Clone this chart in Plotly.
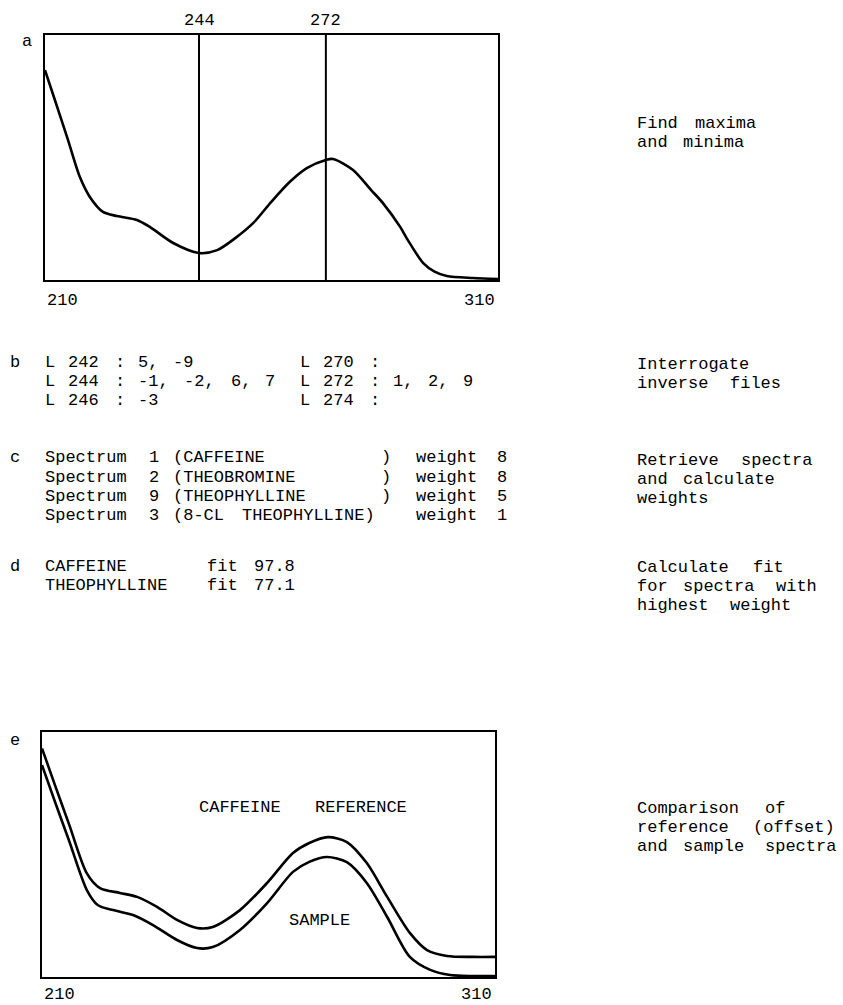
import plotly.graph_objects as go

# ---------------- data ----------------
# panel a: unknown spectrum
wl_a = [210, 212, 215, 217.7, 219.9, 222.8, 225.9, 230.3, 233.2, 238.3, 244, 248, 252, 256,
        260, 264, 267.8, 272, 273.6, 278, 282, 284.6, 288.4, 290.1, 293.5, 296, 298.7, 304.5, 310]
abs_a = [0.857, 0.745, 0.576, 0.42, 0.339, 0.278, 0.261, 0.245, 0.216, 0.151, 0.110, 0.122, 0.171,
         0.233, 0.32, 0.40, 0.457, 0.49, 0.494, 0.449, 0.367, 0.314, 0.217, 0.163, 0.069, 0.034,
         0.016, 0.008, 0.004]
marker_wl = [244, 272]
range_labels = [210, 310]

# panel e: reference (offset) and sample
wl_ref = [210, 213, 216, 219.9, 222.8, 227.2, 231.0, 235.4, 239.8, 244.2, 247.7, 253.7, 259.7,
          265.4, 269, 273.1, 277.3, 281.7, 286.2, 291.2, 295, 299.4, 305.1, 310]
abs_ref = [0.933, 0.776, 0.622, 0.423, 0.363, 0.343, 0.327, 0.286, 0.233, 0.200, 0.204, 0.273,
           0.384, 0.506, 0.547, 0.571, 0.551, 0.465, 0.327, 0.180, 0.110, 0.086, 0.082, 0.082]
wl_smp = [210, 213, 216, 219.9, 222.3, 225.7, 230.1, 234.5, 239.8, 244.2, 247.7, 253.7, 259.7,
          265.4, 269, 272.9, 277.3, 281.7, 286.2, 291.2, 295.7, 300.1, 305.1, 310]
abs_smp = [0.865, 0.708, 0.555, 0.355, 0.294, 0.273, 0.253, 0.212, 0.151, 0.118, 0.122, 0.192,
           0.302, 0.429, 0.47, 0.490, 0.469, 0.384, 0.245, 0.082, 0.029, 0.008, 0.004, 0.004]

# panel b: inverse file entries
inv_left = ["L 242 : 5, -9", "L 244 : -1, -2, 6, 7", "L 246 : -3"]
inv_right = ["L 270 :", "L 272 : 1, 2, 9", "L 274 :"]

# panel c: retrieved spectra and weights
spec_ids = [1, 2, 9, 3]
spec_names = ["CAFFEINE", "THEOBROMINE", "THEOPHYLLINE", "8-CL THEOPHYLLINE"]
spec_weights = [8, 8, 5, 1]

# panel d: fits
fit_names = ["CAFFEINE", "THEOPHYLLINE"]
fit_values = [97.8, 77.1]

# step descriptions
steps = [
    ["Find maxima", "and minima"],
    ["Interrogate", "inverse files"],
    ["Retrieve spectra", "and calculate", "weights"],
    ["Calculate fit", "for spectra with", "highest weight"],
    ["Comparison of", "reference (offset)", "and sample spectra"],
]
e_labels = ["CAFFEINE  REFERENCE", "SAMPLE"]

# ---------------- layout helpers ----------------
W, H = 843, 1005
FONT = "Liberation Mono, Courier New, monospace"
FS = 17       # glyph size
CW = 11.6     # typewriter column pitch in px
LS = 19.3     # typewriter line pitch in px


def px(x):
    return x / W


def py(y):
    return 1 - y / H


annotations = []


def txt(x, y, s, anchor="left", size=FS):
    annotations.append(dict(text=s, x=px(x), y=py(y), xref="paper", yref="paper",
                            xanchor=anchor, yanchor="middle", showarrow=False,
                            font=dict(family=FONT, size=size, color="black")))


def typed(x0, y, s):
    """place each word of a typewritten line on its character column"""
    i = 0
    n = len(s)
    while i < n:
        if s[i] == " ":
            i += 1
            continue
        j = i
        while j < n and s[j] != " ":
            j += 1
        txt(x0 + i * CW, y, s[i:j])
        i = j


fig = go.Figure()
line_style = dict(color="black", width=2.6, shape="spline", smoothing=0.8)
fig.add_trace(go.Scatter(x=wl_a, y=abs_a, mode="lines", line=line_style,
                         xaxis="x", yaxis="y", showlegend=False, hoverinfo="skip"))
fig.add_trace(go.Scatter(x=wl_ref, y=abs_ref, mode="lines", line=line_style,
                         xaxis="x2", yaxis="y2", showlegend=False, hoverinfo="skip"))
fig.add_trace(go.Scatter(x=wl_smp, y=abs_smp, mode="lines", line=line_style,
                         xaxis="x2", yaxis="y2", showlegend=False, hoverinfo="skip"))

ax = dict(showgrid=False, zeroline=False, showticklabels=False, ticks="",
          showline=True, mirror=True, linecolor="black", linewidth=2)

fig.update_layout(
    width=W, height=H, margin=dict(l=0, r=0, t=0, b=0),
    paper_bgcolor="white", plot_bgcolor="white",
    xaxis=dict(ax, domain=[px(45), px(498)], range=[210, 310], anchor="y"),
    yaxis=dict(ax, domain=[py(280), py(35)], range=[0, 1], anchor="x"),
    xaxis2=dict(ax, domain=[px(42), px(495)], range=[210, 310], anchor="y2"),
    yaxis2=dict(ax, domain=[py(977), py(732)], range=[0, 1], anchor="x2"),
)

# vertical marker lines at maxima/minima
for w in marker_wl:
    fig.add_shape(type="line", xref="x", yref="y domain", x0=w, x1=w, y0=0, y1=1,
                  line=dict(color="black", width=2))
    annotations.append(dict(text=str(w), x=w, y=py(20), xref="x", yref="paper",
                            xanchor="center", yanchor="middle", showarrow=False,
                            font=dict(family=FONT, size=FS, color="black")))

# range labels
txt(45, 300, str(range_labels[0]))
txt(497, 300, str(range_labels[1]), anchor="right")
txt(42, 994, str(range_labels[0]))
txt(494, 994, str(range_labels[1]), anchor="right")

# panel letters
txt(20, 42, "a")
txt(8, 362, "b")
txt(8, 458, "c")
txt(8, 566, "d")
txt(8, 740, "e")

X0 = 43
# b
for i, (l, r) in enumerate(zip(inv_left, inv_right)):
    typed(X0, 362 + i * LS, l.ljust(22) + r)
# c
for i, (n, name, wgt) in enumerate(zip(spec_ids, spec_names, spec_weights)):
    typed(X0, 458 + i * LS, f"Spectrum {n} ({name.ljust(17)})  weight {wgt}")
# d
for i, (name, f) in enumerate(zip(fit_names, fit_values)):
    typed(X0, 566 + i * LS, f"{name.ljust(14)}fit {f}")

# step descriptions on the right
step_y = [123, 364, 460, 567, 808]
for ys, lines in zip(step_y, steps):
    for j, s in enumerate(lines):
        typed(635, ys + j * LS, s)

# labels inside panel e
typed(197, 807, e_labels[0])
typed(287, 920, e_labels[1])

fig.update_layout(annotations=annotations)
fig.write_html("out.html", config={"displayModeBar": False},
               post_script="document.body.style.margin='0';document.body.style.overflow='hidden';")
